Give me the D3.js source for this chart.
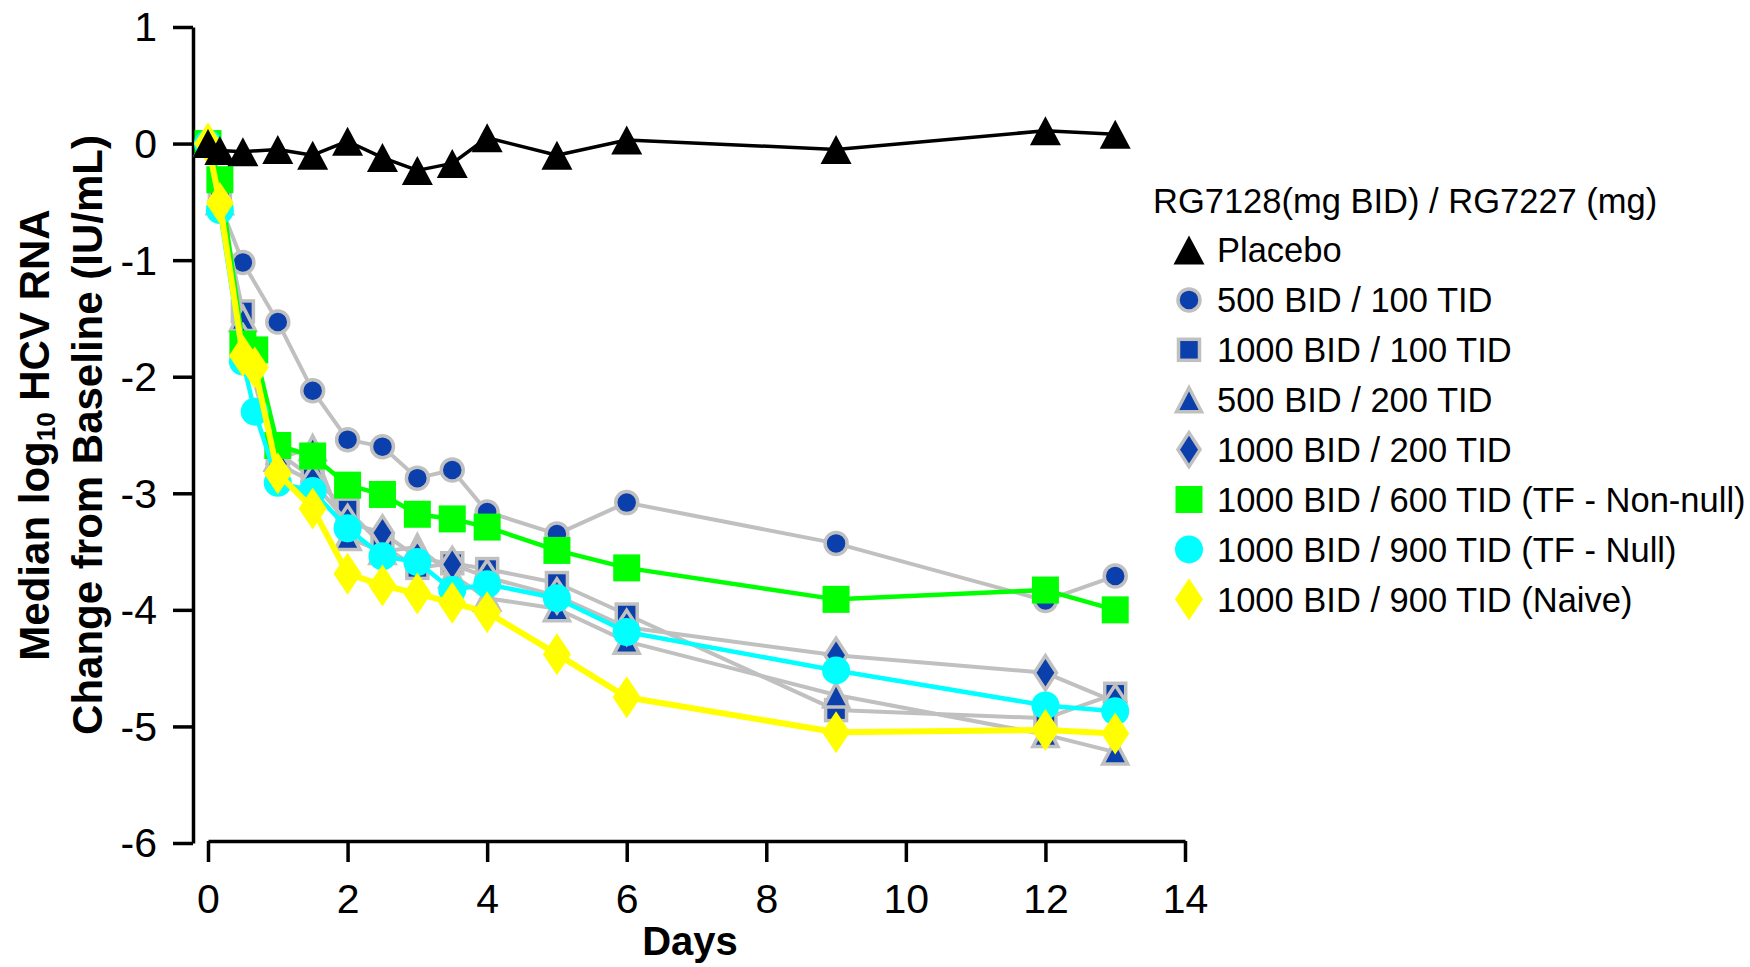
<!DOCTYPE html>
<html>
<head>
<meta charset="utf-8">
<script src="https://cdn.jsdelivr.net/npm/d3@7"></script>
<style>
  html, body { margin: 0; padding: 0; background: #fff; }
  svg { display: block; font-family: Arial, "Liberation Sans", Helvetica, sans-serif; }
</style>
</head>
<body>
<svg id="chart" width="1750" height="967"></svg>
<script>
/* Median log10 HCV RNA change from baseline, RG7128 + RG7227 cohorts */
var DAYS = [0, 0.17, 0.5, 0.67, 1, 1.5, 2, 2.5, 3, 3.5, 4, 5, 6, 9, 12, 13];

var PLACEBO      = [0, -0.06, -0.07, null, -0.05, -0.10, 0.02, -0.12, -0.23, -0.17, 0.05, -0.10, 0.03, -0.05, 0.11, 0.08];
var BID500_TID100  = [0, -0.52, -1.02, null, -1.53, -2.12, -2.54, -2.60, -2.87, -2.80, -3.16, -3.35, -3.08, -3.43, -3.92, -3.71];
var BID1000_TID100 = [0, -0.50, -1.44, null, -2.65, -2.87, -3.14, -3.45, -3.64, -3.60, -3.65, -3.77, -4.04, -4.86, -4.93, -4.72];
var BID500_TID200  = [0, -0.50, -1.50, null, -2.70, -2.61, -3.38, -3.50, -3.46, -3.70, -3.90, -3.99, -4.27, -4.73, -5.07, -5.22];
var BID1000_TID200 = [0, -0.50, -1.70, null, -2.75, -2.90, -3.25, -3.34, -3.55, -3.61, -3.72, -3.88, -4.15, -4.39, -4.54, -4.79];
var TID600_NONNULL = [0, -0.31, -1.72, -1.77, -2.59, -2.68, -2.93, -3.01, -3.18, -3.22, -3.29, -3.49, -3.64, -3.91, -3.83, -4.00];
var TID900_NULL    = [0, -0.57, -1.87, -2.30, -2.91, -2.98, -3.30, -3.54, -3.59, -3.83, -3.78, -3.90, -4.19, -4.52, -4.82, -4.87];
var TID900_NAIVE   = [0, -0.51, -1.82, -1.92, -2.83, -3.13, -3.69, -3.79, -3.86, -3.94, -4.02, -4.38, -4.75, -5.05, -5.03, -5.06];

var LEGEND_TITLE = 'RG7128(mg BID) / RG7227 (mg)';
var X_TICKS = [0, 2, 4, 6, 8, 10, 12, 14];
var Y_TICKS = [1, 0, -1, -2, -3, -4, -5, -6];

(function () {
  'use strict';

  var BLUE = '#0b3fab', GRAY = '#c0c0c0';

  // drawn in this order: later ones sit on top
  var series = [
    { name: '500 BID / 100 TID',  values: BID500_TID100,  shape: 'circle',   fill: BLUE, stroke: GRAY, w: 22, h: 22, line: GRAY, lw: 4 },
    { name: '1000 BID / 100 TID', values: BID1000_TID100, shape: 'square',   fill: BLUE, stroke: GRAY, w: 21, h: 21, line: GRAY, lw: 4 },
    { name: '500 BID / 200 TID',  values: BID500_TID200,  shape: 'triangle', fill: BLUE, stroke: GRAY, w: 25, h: 24, line: GRAY, lw: 4 },
    { name: '1000 BID / 200 TID', values: BID1000_TID200, shape: 'diamond',  fill: BLUE, stroke: GRAY, w: 22, h: 34, line: GRAY, lw: 4 },
    { name: '1000 BID / 600 TID (TF - Non-null)', values: TID600_NONNULL, shape: 'square',  fill: '#00ff00', stroke: null, w: 27, h: 27, line: '#00ff00', lw: 4.5 },
    { name: '1000 BID / 900 TID (TF - Null)',     values: TID900_NULL,    shape: 'circle',  fill: '#00ffff', stroke: null, w: 28, h: 28, line: '#00ffff', lw: 4.5 },
    { name: '1000 BID / 900 TID (Naive)',         values: TID900_NAIVE,   shape: 'diamond', fill: '#ffff00', stroke: null, w: 28, h: 42, line: '#ffff00', lw: 6 },
    { name: 'Placebo', values: PLACEBO, shape: 'triangle', fill: '#000', stroke: null, w: 31, h: 29, line: '#000', lw: 3.5 }
  ];
  var legendOrder = [7, 0, 1, 2, 3, 4, 5, 6];

  var svg = d3.select('#chart');
  var x = d3.scaleLinear().domain([0, 14]).range([208, 1185]);
  var y = d3.scaleLinear().domain([-6, 1]).range([843, 27]);

  function drawMarker(g, s, cx, cy) {
    var el;
    if (s.shape === 'circle') {
      el = g.append('circle').attr('cx', cx).attr('cy', cy).attr('r', s.w / 2);
    } else if (s.shape === 'square') {
      el = g.append('rect').attr('x', cx - s.w / 2).attr('y', cy - s.h / 2)
        .attr('width', s.w).attr('height', s.h);
    } else if (s.shape === 'triangle') {
      el = g.append('path').attr('d',
        'M' + cx + ',' + (cy - s.h / 2) + 'L' + (cx + s.w / 2) + ',' + (cy + s.h / 2) +
        'L' + (cx - s.w / 2) + ',' + (cy + s.h / 2) + 'Z');
    } else {
      el = g.append('path').attr('d',
        'M' + cx + ',' + (cy - s.h / 2) + 'L' + (cx + s.w / 2) + ',' + cy +
        'L' + cx + ',' + (cy + s.h / 2) + 'L' + (cx - s.w / 2) + ',' + cy + 'Z');
    }
    el.attr('fill', s.fill);
    if (s.stroke) el.attr('stroke', s.stroke).attr('stroke-width', 3.5).attr('stroke-linejoin', 'miter');
  }

  /* Axes */
  var xAxis = svg.append('g').attr('transform', 'translate(0,841)')
    .call(d3.axisBottom(x).tickValues(X_TICKS).tickSize(21).tickSizeOuter(0).tickPadding(0));
  xAxis.select('.domain').attr('stroke-width', 3.5);
  xAxis.selectAll('.tick line').attr('stroke-width', 3.5);
  xAxis.selectAll('.tick text').attr('y', 72).attr('dy', null)
    .attr('font-size', 41).attr('fill', '#000')
    .style('font-family', 'Arial, "Liberation Sans", sans-serif');

  var yAxis = svg.append('g').attr('transform', 'translate(193,0)')
    .call(d3.axisLeft(y).tickValues(Y_TICKS).tickSize(20).tickSizeOuter(0).tickPadding(16)
      .tickFormat(function (d) { return d < 0 ? '-' + Math.abs(d) : String(d); }));
  yAxis.select('.domain').attr('stroke-width', 3.5);
  yAxis.selectAll('.tick line').attr('stroke-width', 3.5);
  yAxis.selectAll('.tick text').attr('font-size', 41).attr('fill', '#000').attr('dy', '0.34em')
    .style('font-family', 'Arial, "Liberation Sans", sans-serif');

  /* Axis titles */
  svg.append('text').attr('x', 690).attr('y', 955).attr('text-anchor', 'middle')
    .attr('font-size', 40).attr('font-weight', 'bold').text('Days');

  var yt = svg.append('g').attr('transform', 'translate(0,435) rotate(-90)')
    .attr('font-size', 42).attr('font-weight', 'bold').attr('text-anchor', 'middle');
  var t1 = yt.append('text').attr('x', 0).attr('y', 49);
  t1.append('tspan').text('Median log');
  t1.append('tspan').attr('font-size', 26).attr('dy', 6).text('10');
  t1.append('tspan').attr('dy', -6).text(' HCV RNA');
  yt.append('text').attr('x', 0).attr('y', 102).text('Change from Baseline (IU/mL)');

  /* Series */
  var line = d3.line().x(function (d) { return x(d.day); }).y(function (d) { return y(d.v); });
  series.forEach(function (s) {
    var pts = DAYS.map(function (d, i) { return { day: d, v: s.values[i] }; })
      .filter(function (p) { return p.v !== null; });
    var g = svg.append('g');
    g.append('path').datum(pts).attr('d', line).attr('fill', 'none')
      .attr('stroke', s.line).attr('stroke-width', s.lw).attr('stroke-linejoin', 'round');
    pts.forEach(function (p) { drawMarker(g, s, x(p.day), y(p.v)); });
  });

  /* Legend */
  var lg = svg.append('g').attr('font-size', 34.5);
  lg.append('text').attr('x', 1153).attr('y', 213).text(LEGEND_TITLE);
  legendOrder.forEach(function (si, i) {
    var s = series[si];
    var cy = 250 + i * 49.9;
    drawMarker(lg, s, 1189, cy);
    lg.append('text').attr('x', 1217).attr('y', cy + 12.4).text(s.name);
  });
})();
</script>
</body>
</html>
